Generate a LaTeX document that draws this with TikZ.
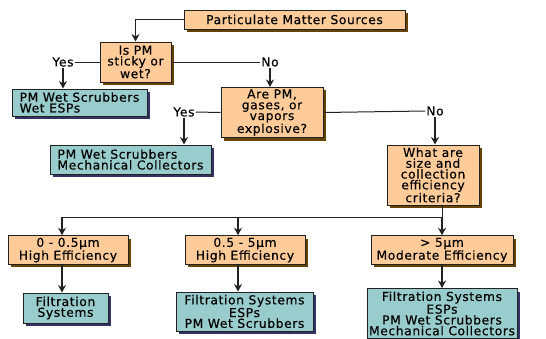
\documentclass[tikz,border=0pt]{standalone}
\usepackage{fontspec}
\setmainfont[LetterSpace=5,FakeBold=0.4]{DejaVu Sans}
\usetikzlibrary{arrows.meta,shadows}
\definecolor{Peach}{HTML}{FFCC99}
\definecolor{Umber}{HTML}{664400}
\definecolor{Aqua}{HTML}{99CCCC}
\definecolor{Slate}{HTML}{333366}
\definecolor{Edge}{HTML}{222222}
\tikzset{
  question/.style={draw=Edge,fill=Peach,line width=1pt,align=center,inner sep=2pt,
    drop shadow={shadow xshift=3pt,shadow yshift=-3pt,fill=Umber,opacity=1}},
  device/.style={draw=Edge,fill=Aqua,line width=1pt,align=center,inner sep=2pt,
    drop shadow={shadow xshift=3pt,shadow yshift=-3pt,fill=Slate,opacity=1}},
  answer/.style={inner sep=1pt},
  link/.style={line width=1pt,Edge},
  flow/.style={line width=1.2pt,Edge,-{Stealth[length=7.5pt,width=8pt]}}
}
\begin{document}
\begin{tikzpicture}[x=1pt,y=-1pt,font=\fontsize{12.3}{10.8}\selectfont]
        \useasboundingbox (0,0) rectangle (546,338);
        \node[question,minimum width=221pt,minimum height=19pt] (src) at (294.5,19.5) {Particulate Matter Sources};
        \node[question,minimum width=71pt,minimum height=40pt] (sticky) at (135.5,62) {Is PM\\sticky or\\wet?};
        \node[device,align=left,minimum width=135pt,minimum height=27pt] (wetA) at (79.5,102.5) {PM Wet Scrubbers\\Wet ESPs};
        \node[question,minimum width=102pt,minimum height=49pt] (expl) at (272,112.5) {Are PM,\\gases, or\\vapors\\explosive?};
        \node[device,align=left,minimum width=161pt,minimum height=29pt] (wetB) at (130.5,159.5) {PM Wet Scrubbers\\Mechanical Collectors};
        \node[question,minimum width=92pt,minimum height=60pt] (crit) at (433,175) {What are\\size and\\collection\\efficiency\\criteria?};
        \node[answer] (yesA) at (63,62) {Yes};
        \node[answer] (noA) at (270,62) {No};
        \node[answer] (yesB) at (184,112) {Yes};
        \node[answer] (noB) at (435,111) {No};
        \node[question,minimum width=120pt,minimum height=28pt] (sizeA) at (68,250) {0 - 0.5µm\\High Efficiency};
        \node[question,minimum width=120pt,minimum height=28pt] (sizeB) at (245,250) {0.5 - 5µm\\High Efficiency};
        \node[question,minimum width=142pt,minimum height=28pt] (sizeC) at (442,250) {> 5µm\\Moderate Efficiency};
        \node[device,minimum width=85pt,minimum height=30pt] (filtA) at (65.5,308) {Filtration\\Systems};
        \node[device,minimum width=137pt,minimum height=39pt] (filtB) at (244.5,311.5) {Filtration Systems\\ESPs\\PM Wet Scrubbers};
        \node[device,minimum width=150pt,minimum height=50pt,inner sep=1pt] (filtC) at (442,313.5) {Filtration Systems\\ESPs\\PM Wet Scrubbers\\Mechanical Collectors};
        \coordinate (colA) at (62,217);
        \coordinate (colB) at (238,217);
        \coordinate (colC) at (442,217);
        \draw[flow] (src.west) -| (sticky.north);
        \draw[link] (sticky.west) -- (yesA.east);
        \draw[link] (sticky.east) -- (noA.west);
        \draw[flow] (yesA.south) -- (wetA.north -| yesA.south);
        \draw[flow] (noA.south) -- (expl.north -| noA.south);
        \draw[link] (expl.west) -- (yesB.east);
        \draw[link] (expl.east) -- (noB.west);
        \draw[flow] (yesB.south) -- (wetB.north -| yesB.south);
        \draw[flow] (noB.south) -- (crit.north -| noB.south);
        \draw[link] (crit.south -| colC) -- (colC);
        \draw[link] (colA) -- (colC);
        \foreach \col/\top/\low in {colA/sizeA/filtA,colB/sizeB/filtB,colC/sizeC/filtC}
          {
            \draw[flow] (\col) -- (\top.north -| \col);
            \draw[flow] (\top.south -| \col) -- (\low.north -| \col);
          }
      \end{tikzpicture}
\end{document}
